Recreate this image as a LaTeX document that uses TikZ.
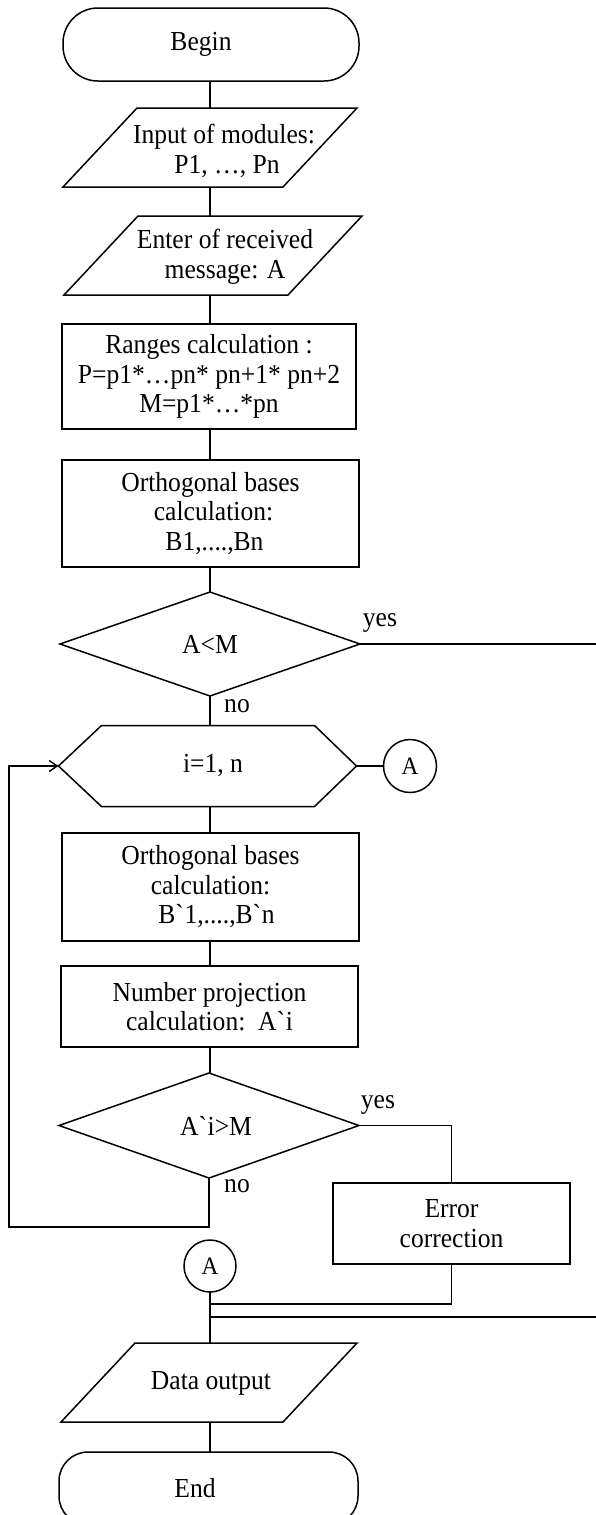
\documentclass[tikz,border=0pt]{standalone}
\usepackage{fontspec}
\setmainfont[FakeStretch=0.93]{Liberation Serif}
\usetikzlibrary{shapes.geometric,arrows.meta}
\begin{document}
\begin{tikzpicture}[x=1pt,y=-1pt,
  every node/.style={font=\fontsize{27.5}{29.5}\selectfont, inner sep=0pt, outer sep=0pt, align=center},
  shapeline/.style={draw, line width=1.5pt},
  flow/.style={line width=1.5pt},
  procbox/.style={shapeline, rectangle, minimum width=297, minimum height=#1},
  procbox/.default=81,
  termbox/.style={shapeline, rectangle, rounded corners=#1, minimum height=73},
  decision/.style={shapeline, diamond, aspect=2.88, minimum width=300, minimum height=#1},
  frame/.style={rectangle, minimum width=#1, minimum height=79},
  connbox/.style={shapeline, circle, minimum size=53, font=\fontsize{25}{28}\selectfont},
  lbl/.style={font=\fontsize{27.5}{29.5}\selectfont}
]
\useasboundingbox (0,0) rectangle (596,1515);
\clip (0,0) rectangle (596,1515);

% nodes
\node[termbox=35, minimum width=296] (begin) at (211,44.5) {Begin\hspace*{20pt}};

\node[frame=220] (in1) at (210,147.5) {};
\draw[shapeline] ([xshift=37]in1.north west) -- ([xshift=37]in1.north east) -- ([xshift=-37]in1.south east) -- ([xshift=-37]in1.south west) -- cycle;
\node (in1t) at (224,151) {Input of modules:\\\hspace*{6pt}P1, …, Pn};

\node[frame=224] (in2) at (213,255.5) {};
\draw[shapeline] ([xshift=37]in2.north west) -- ([xshift=37]in2.north east) -- ([xshift=-37]in2.south east) -- ([xshift=-37]in2.south west) -- cycle;
\node (in2t) at (225,257) {Enter of received\\message: A};

\node[procbox=105, minimum width=294] (rng) at (209,376.5) {Ranges calculation :\\P=p1*…pn* pn+1* pn+2\\M=p1*…*pn};

\node[procbox=107] (orth1) at (210.5,513.5) {Orthogonal bases\\\hspace*{6pt}calculation:\\\hspace*{8pt}B1,....,Bn};

\node[decision=104] (d1) at (210,644) {A<M};
\node[lbl] (yes1) at (380,623) {yes};
\node[lbl] (no1) at (237,706) {no};

\node[frame=298, minimum height=81] (hex) at (207.5,766) {\hspace*{11pt}i=1, n};
\draw[shapeline] (hex.west) -- ([xshift=43]hex.north west) -- ([xshift=-42]hex.north east) -- (hex.east) -- ([xshift=-42]hex.south east) -- ([xshift=43]hex.south west) -- cycle;

\node[connbox] (cA) at (410,766) {A};

\node[procbox=108] (orth2) at (210.5,887) {Orthogonal bases\\calculation:\\\hspace*{12pt}B\textasciigrave 1,....,B\textasciigrave n};

\node[procbox=81] (num) at (209.5,1006.5) {Number projection\\calculation:\ \ A\textasciigrave i};

\node[decision=105] (d2) at (209,1125.5) {\hspace*{14pt}A\textasciigrave i>M};
\node[lbl] (yes2) at (378,1105) {yes};
\node[lbl] (no2) at (237,1186) {no};

\node[procbox=81, minimum width=237] (err) at (451.5,1223.5) {Error\\correction};

\node[connbox, minimum size=52] (cA2) at (210,1266) {A};

\node[frame=222] (out) at (209,1382.5) {};
\draw[shapeline] ([xshift=37]out.north west) -- ([xshift=37]out.north east) -- ([xshift=-37]out.south east) -- ([xshift=-37]out.south west) -- cycle;
\node (outt) at (211,1383) {Data output};

\node[termbox=29, minimum width=299] (end) at (208.5,1488.5) {End\hspace*{27pt}};

% free-end coordinates
\coordinate (yesend) at (596,644);
\coordinate (loopb) at (9,1227);
\coordinate (jn1) at (210,1304);
\coordinate (jn2) at (210,1317);
\coordinate (yesin) at (596,1317);

% connectors
\draw[flow] (begin.south -| in1.north) -- (in1.north);
\draw[flow] (in1.south) -- (in1.south |- in2.north);
\draw[flow] (in1.south |- in2.south) -- (in1.south |- rng.north);
\draw[flow] (in1.south |- rng.south) -- (in1.south |- orth1.north);
\draw[flow] (in1.south |- orth1.south) -- (d1.north);
\draw[flow] (d1.east) -- (yesend);
\draw[flow] (d1.south) -- (d1.south |- hex.north);
\draw[flow] (hex.east) -- (cA.west);
\draw[flow] (d1.south |- hex.south) -- (d1.south |- orth2.north);
\draw[flow] (d1.south |- orth2.south) -- (d1.south |- num.north);
\draw[flow] (d1.south |- num.south) -- (d1.south |- d2.north);
\draw[flow, -{Straight Barb[length=8pt,width=11pt]}] (d2.south) |- (loopb) |- (hex.west);
\draw[flow] (d2.east) -| (err.north);
\draw[flow] (err.south) |- (jn1);
\draw[flow] (yesin) -- (jn2);
\draw[flow] (cA2.south) -- (cA2.south |- out.north);
\draw[flow] (cA2.south |- out.south) -- (cA2.south |- end.north);
\end{tikzpicture}
\end{document}
